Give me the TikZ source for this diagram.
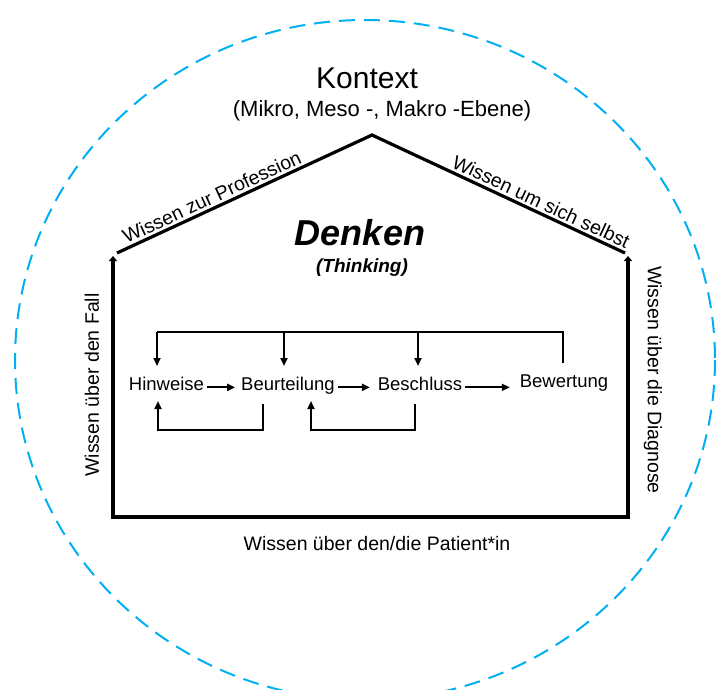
\documentclass[tikz,border=0pt]{standalone}
\usepackage{fontspec}
\setmainfont{Liberation Sans}
\usetikzlibrary{arrows.meta}
\definecolor{cblue}{RGB}{0,176,240}
\begin{document}
\begin{tikzpicture}[x=1bp,y=-1bp,
  every node/.style={inner sep=0pt, outer sep=0pt},
  lbl/.style={font=\fontsize{19.5bp}{22bp}\selectfont},
  flowtxt/.style={font=\fontsize{18.5bp}{21bp}\selectfont, anchor=base},
  wall/.style={line width=3.2bp, line join=miter},
  tip/.style={-{Triangle[length=8bp,width=7bp]}},
  flowline/.style={line width=2bp, line join=miter},
  flow/.style={flowline, tip}]
\useasboundingbox (0,0) rectangle (716,690);
\fill[white] (0,0) rectangle (716,690);
% context circle
\draw[cblue, line width=2bp, dash pattern=on 16bp off 9bp] (365,360) ellipse [x radius=350, y radius=340];
% house
\coordinate (wl) at (113,256);
\coordinate (bl) at (113,517);
\coordinate (br) at (628,517);
\coordinate (wr) at (628,256);
\coordinate (rl) at (117,253);
\coordinate (peak) at (372,135);
\coordinate (rr) at (625,253);
\draw[wall, {Triangle[length=5bp,width=8bp]}-{Triangle[length=5bp,width=8bp]}] (wl) -- (bl) -- (br) -- (wr);
\draw[wall] (rl) -- (peak) -- (rr);
\path (rl) -- node[lbl, sloped, pos=0.39, above=4bp] (prof) {Wissen zur Profession} (peak);
\path (peak) -- node[lbl, sloped, pos=0.65, above=4bp] (selbst) {Wissen um sich selbst} (rr);
\node[lbl, rotate=90] (fall) at (92,385) {Wissen über den Fall};
\node[lbl, rotate=-90] (diag) at (653,380) {Wissen über die Diagnose};
\node[lbl] (pat) at (377,544) {Wissen über den/die Patient*in};
% titles
\node[font=\fontsize{30bp}{34bp}\selectfont] (kon) at (367,78) {Kontext};
\node[font=\fontsize{22bp}{26bp}\selectfont] (ebene) at (382,111) {(Mikro, Meso -, Makro -Ebene)};
\node[font=\fontsize{36bp}{40bp}\selectfont\bfseries\itshape] (denken) at (360,233) {Denken};
\node[font=\fontsize{19bp}{22bp}\selectfont\bfseries\itshape] (think) at (362,268) {(Thinking)};
% flow
\node[flowtxt] (hin) at (166.5,390) {Hinweise};
\node[flowtxt] (beu) at (288,390) {Beurteilung};
\node[flowtxt] (bes) at (420,390) {Beschluss};
\node[flowtxt] (bew) at (564,387) {Bewertung};
\draw[flow] ([xshift=3bp]hin.mid east) -- ([xshift=-6bp]beu.mid west);
\draw[flow] ([xshift=3bp]beu.mid east) -- ([xshift=-8bp]bes.mid west);
\draw[flow] ([xshift=3bp]bes.mid east) -- ([xshift=-10bp]bes.mid east -| bew.west);
\coordinate (b1) at (157,332);
\coordinate (b2) at (284,332);
\coordinate (b3) at (418,332);
\coordinate (b4) at (563,332);
\draw[flowline] (b1) -- (b4) -- (563,363);
\draw[flow] (b1) -- (157,366);
\draw[flow] (b2) -- (284,366);
\draw[flow] (b3) -- (418,366);
\draw[flow] (263,404) -- (263,430) -- (158,430) -- (158,401);
\draw[flow] (415,404) -- (415,430) -- (311,430) -- (311,401);
\end{tikzpicture}
\end{document}
